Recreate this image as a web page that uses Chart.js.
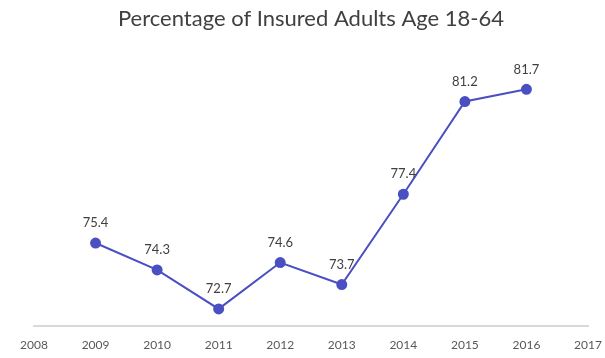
<!DOCTYPE html>
<html>
<head>
<meta charset="utf-8">
<script src="https://cdn.jsdelivr.net/npm/chart.js@4"></script>
<style>
  html, body { margin: 0; padding: 0; background: #fff; }
  #wrap { width: 605px; height: 358px; }
</style>
</head>
<body>
<div id="wrap"><canvas id="chart"></canvas></div>
<script>
// insured adults, by year
const years = ['2008', '2009', '2010', '2011', '2012', '2013', '2014', '2015', '2016', '2017'];
const insured = [null, 75.4, 74.3, 72.7, 74.6, 73.7, 77.4, 81.2, 81.7, null];

const lineColor = '#4a4fc2';

// value labels above each point
const pointLabels = {
    id: 'pointLabels',
    afterDatasetsDraw(chart) {
        const ctx = chart.ctx;
        const meta = chart.getDatasetMeta(0);
        ctx.save();
        ctx.font = '13px Lato';
        ctx.fillStyle = '#404040';
        ctx.textAlign = 'center';
        ctx.textBaseline = 'middle';
        meta.data.forEach((pt, i) => {
            const v = insured[i];
            if (v === null || pt.skip) return;
            ctx.fillText(v.toFixed(1), pt.x, pt.y - 20);
        });
        ctx.restore();
    }
};

new Chart(document.querySelector('#chart'), {
    type: 'line',
    data: {
        labels: years,
        datasets: [{
            data: insured,
            borderColor: lineColor,
            backgroundColor: lineColor,
            borderWidth: 2,
            pointRadius: 4.5,
            pointHoverRadius: 4.5,
            tension: 0
        }]
    },
    options: {
        responsive: true,
        maintainAspectRatio: false,
        animation: false,
        layout: { padding: { left: 34, right: 17, top: 0, bottom: 0 } },
        plugins: {
            legend: { display: false },
            tooltip: { enabled: false },
            title: {
                display: true,
                text: 'Percentage of Insured Adults Age 18-64',
                color: '#404040',
                font: { family: 'Lato', size: 22, weight: 'normal' },
                padding: { top: 6, bottom: 13 }
            }
        },
        scales: {
            x: {
                offset: false,
                grid: { display: false, drawTicks: false },
                border: { color: '#d9d9d9', width: 2 },
                ticks: {
                    color: '#595959',
                    font: { family: 'Lato', size: 12 },
                    padding: 12,
                    maxRotation: 0,
                    autoSkip: false
                },
                afterFit(scale) {
                    // edge labels may hang past the plot area
                    scale.height = 32;
                    scale.paddingLeft = 0;
                    scale.paddingRight = 0;
                }
            },
            y: {
                display: false,
                min: 72,
                max: 83.5
            }
        }
    },
    plugins: [pointLabels]
});
</script>
</body>
</html>
